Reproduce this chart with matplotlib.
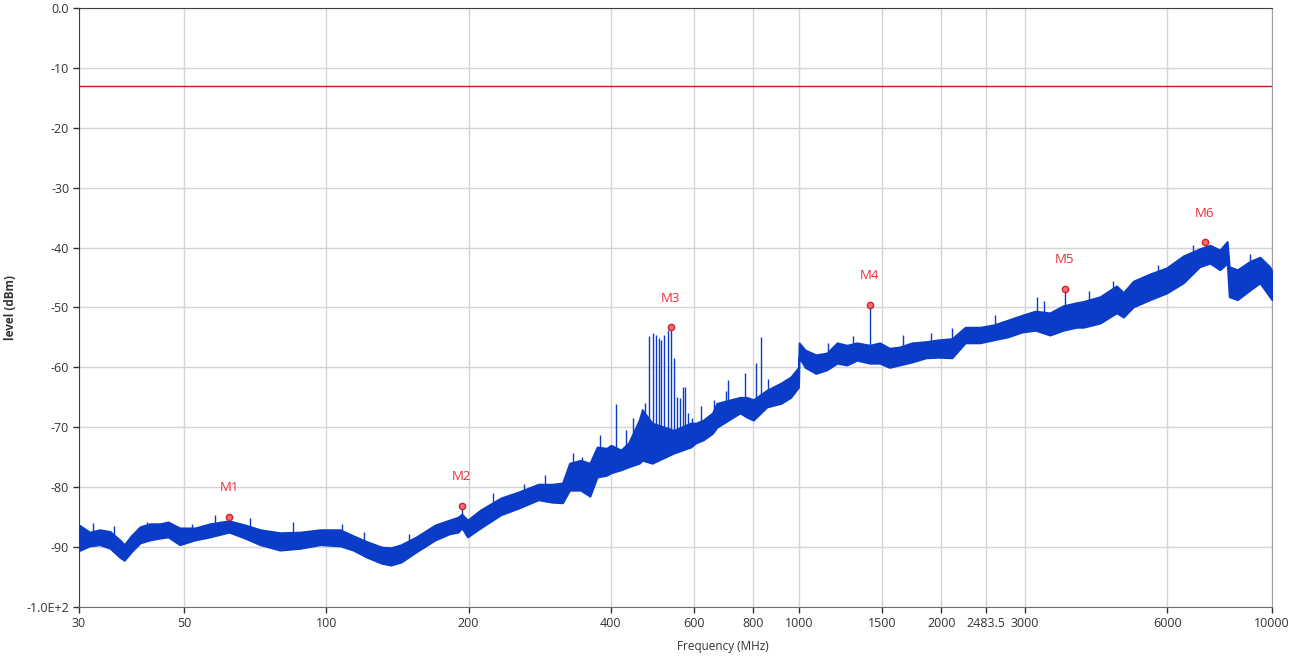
import matplotlib
matplotlib.use("Agg")
import matplotlib.pyplot as plt
import numpy as np

freq = [30, 31.6, 33.2, 34.9, 36.6, 37.4, 38.7, 40.4, 42.4, 44.5, 46.3, 49.0, 52.8, 56.8,
        62.3, 67.3, 72.5, 79.8, 88.1, 97.0, 107, 114, 122, 131, 137, 144, 155, 170, 182,
        190, 193.6, 199, 212, 234, 255, 281, 300, 316, 327, 345, 361, 374, 392, 400, 420,
        436, 459, 466, 489, 543, 590, 605, 627, 656, 670, 750, 775, 800, 855, 916, 960,
        997, 1000, 1030, 1085, 1145, 1203, 1262, 1325, 1411, 1480, 1553, 1630, 1733,
        1855, 1970, 2105, 2245, 2410, 2580, 2765, 2960, 3160, 3390, 3620, 3860, 3990,
        4330, 4690, 4850, 5090, 5520, 5980, 6490, 7030, 7390, 7760, 8040, 8120, 8450,
        8980, 9430, 9890, 10000]
upper = [-86.3, -87.5, -87.1, -87.4, -88.8, -89.6, -88.1, -86.6, -86.1, -86.1, -85.8, -86.8,
         -86.8, -86.1, -85.6, -86.3, -87.1, -87.6, -87.5, -87.1, -87.1, -88.1, -89.1, -90.0,
         -90.1, -89.6, -88.3, -86.3, -85.5, -85.0, -84.5, -85.5, -83.8, -81.8, -80.8, -79.5,
         -79.5, -79.3, -76.0, -75.5, -76.0, -73.3, -73.5, -73.0, -73.8, -72.6, -68.8, -67.1,
         -69.3, -70.5, -69.3, -69.3, -68.8, -67.6, -66.0, -65.0, -65.0, -65.4, -63.8, -62.6,
         -61.6, -60.0, -55.9, -57.1, -57.9, -57.6, -55.9, -56.3, -55.9, -56.3, -55.9, -56.8,
         -56.6, -55.9, -55.7, -55.4, -55.2, -53.3, -53.3, -52.9, -52.1, -51.3, -50.6, -50.9,
         -49.7, -49.2, -49.0, -48.2, -46.4, -47.5, -45.6, -44.4, -43.4, -41.4, -40.2, -39.6,
         -40.4, -39.0, -43.2, -43.7, -42.3, -41.6, -43.2, -44.0]
lower = [-90.6, -89.8, -89.6, -90.2, -91.7, -92.2, -90.8, -89.3, -88.8, -88.5, -88.3, -89.6,
         -88.8, -88.3, -87.5, -88.5, -89.6, -90.5, -90.2, -89.6, -89.8, -90.5, -91.7, -92.7,
         -93.0, -92.5, -90.8, -88.8, -87.8, -87.5, -86.8, -88.3, -86.8, -84.6, -83.5, -82.1,
         -82.5, -82.6, -80.5, -80.5, -81.5, -78.3, -78.0, -77.6, -77.1, -76.6, -76.0, -75.5,
         -76.0, -74.3, -73.3, -72.6, -72.1, -71.0, -70.0, -67.6, -68.3, -68.8, -66.6, -66.0,
         -65.0, -63.3, -58.3, -60.0, -61.0, -60.4, -59.3, -59.6, -58.8, -59.3, -59.3, -60.0,
         -59.6, -59.1, -58.4, -58.3, -58.4, -55.9, -55.9, -55.4, -54.9, -54.1, -53.8, -54.6,
         -53.8, -53.3, -53.3, -52.6, -50.9, -51.6, -49.9, -48.7, -47.6, -45.9, -43.2, -42.6,
         -43.7, -42.6, -48.2, -48.7, -47.1, -45.9, -48.2, -48.7]

# narrow spurs standing above the noise floor
spur_freq = [193.6, 410, 482, 490, 498, 506, 510, 518, 528, 535, 545, 551, 559, 568, 574,
             582, 593, 708, 768, 809, 831, 1411, 3183, 3648]
spur_top = [-83.1, -66.1, -54.8, -54.3, -54.6, -55.1, -55.5, -54.6, -53.8, -53.3, -58.5,
            -64.9, -65.1, -63.3, -63.3, -67.6, -68.5, -62.1, -60.9, -59.3, -54.9, -49.6,
            -48.2, -46.9]

# smaller noise peaks on top of the band
peak_freq = [32.1, 35.5, 41.8, 46.7, 52.0, 58.2, 69.0, 85.0, 108, 120, 150, 225, 262, 290,
             332, 347, 374, 380, 430, 445, 466, 472, 620, 660, 700, 860, 1150, 1300, 1658,
             1900, 2105, 2600, 3300, 4100, 4600, 5750, 6800, 9000]
peak_top = [-86.0, -86.5, -85.8, -86.0, -86.2, -84.6, -85.1, -85.8, -86.2, -87.5, -87.8,
            -81.0, -79.5, -78.0, -74.3, -75.0, -73.3, -71.3, -70.5, -68.5, -66.9, -66.0,
            -66.5, -65.5, -64.0, -62.0, -56.0, -54.8, -54.6, -54.2, -53.4, -51.2, -49.0,
            -47.2, -45.5, -42.9, -39.5, -41.0]

# markers
mk_names = ["M1", "M2", "M3", "M4", "M5", "M6"]
mk_freq = [62.3, 193.6, 535.6, 1411, 3648, 7213]
mk_level = [-85.0, -83.1, -53.3, -49.6, -46.9, -39.1]

limit = -13

xticks = [30, 50, 100, 200, 400, 600, 800, 1000, 1500, 2000, 2483.5, 3000, 6000, 10000]
xtick_labels = ["30", "50", "100", "200", "400", "600", "800", "1000", "1500", "2000",
                "2483.5", "3000", "6000", "10000"]
yticks = [0, -10, -20, -30, -40, -50, -60, -70, -80, -90, -100]
ytick_labels = ["0.0", "-10", "-20", "-30", "-40", "-50", "-60", "-70", "-80", "-90", "-1.0E+2"]

plt.rcParams['font.family'] = ['Open Sans', 'DejaVu Sans']

fig = plt.figure(figsize=(13.01, 6.59), dpi=100)
ax = fig.add_axes([0.0607, 0.0789, 0.9170, 0.9090])

blue = '#0a3cc8'
ax.fill_between(freq, lower, upper, color=blue, linewidth=1.4, edgecolor=blue, zorder=3)
spur_base = np.interp(np.log10(spur_freq), np.log10(freq), lower)
ax.vlines(spur_freq, spur_base, spur_top, color=blue, linewidth=1.0, zorder=3)
peak_base = np.interp(np.log10(peak_freq), np.log10(freq), upper)
ax.vlines(peak_freq, peak_base, peak_top, color=blue, linewidth=1.0, zorder=3)

ax.axhline(limit, color='#d01818', linewidth=1.0, zorder=4)

ax.plot(mk_freq, mk_level, 'o', ms=4.5, mfc='#f07070', mec='#d0202a', mew=1.0, zorder=5)
for n, f, l in zip(mk_names, mk_freq, mk_level):
    ax.annotate(n, (f, l), xytext=(0, 21), textcoords='offset points', ha='center',
                va='center', color='#e8303a', fontsize=9.5, zorder=6)

ax.set_xscale('log')
ax.set_xlim(30, 10000)
ax.set_ylim(-100, 0)
ax.set_xticks(xticks)
ax.set_xticklabels(xtick_labels)
ax.xaxis.set_minor_locator(matplotlib.ticker.NullLocator())
ax.set_yticks(yticks)
ax.set_yticklabels(ytick_labels)
ax.tick_params(labelsize=9, colors='#333333', length=4, width=1, pad=3)
ax.grid(True, color='#d4d4d4', linewidth=1.0, zorder=0)
ax.set_axisbelow(True)

for side in ['left', 'top']:
    ax.spines[side].set_color('#404040')
ax.spines['bottom'].set_color('#707070')
ax.spines['right'].set_color('#a0a0a0')

ax.set_xlabel('Frequency (MHz)', fontsize=8.5, color='#333333')
ax.xaxis.set_label_coords(0.54, -0.055)
ax.set_ylabel('level (dBm)', fontsize=8.5, color='#333333', fontweight='bold')
ax.yaxis.set_label_coords(-0.052, 0.5)

fig.savefig('out.png', dpi=100)
